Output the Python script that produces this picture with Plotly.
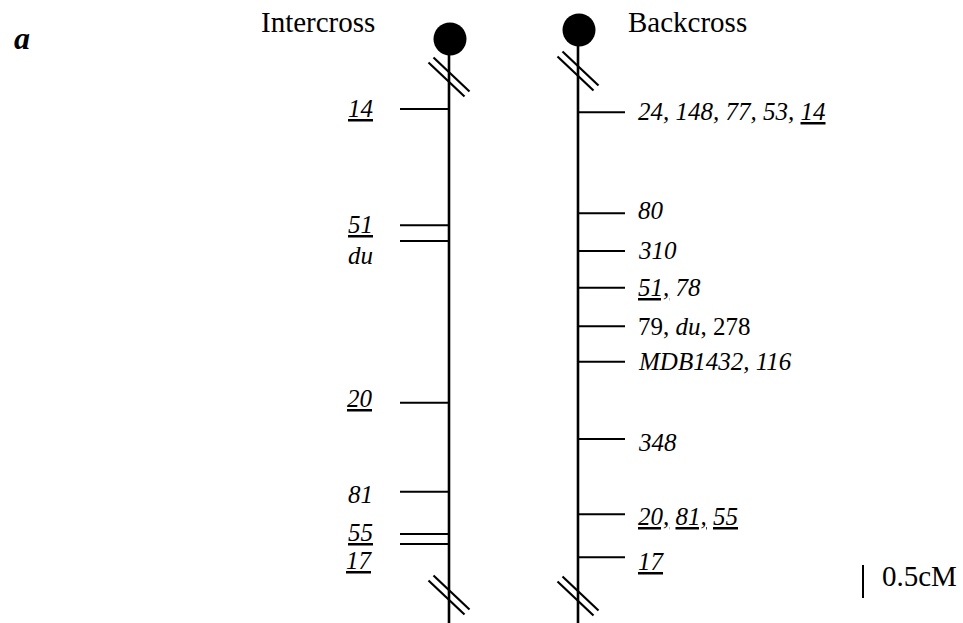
import plotly.graph_objects as go

# ---------------- data (positions in cM, relative to the top Intercross marker) ----------------
intercross_labels = ["<u>14</u>", "<u>51</u>", "<i>du</i>", "<u>20</u>", "81", "<u>55</u>", "<u>17</u>"]
intercross_cM = [0.0, 1.76, 2.00, 4.45, 5.80, 6.44, 6.59]

backcross_labels = ["24, 148, 77, 53, <u>14</u>", "80", "310", "<u>51,</u> 78",
                    "79, du, 278", "MDB1432, 116", "348",
                    "<u>20,</u> <u>81,</u> <u>55</u>", "<u>17</u>"]
backcross_cM = [0.05, 1.58, 2.15, 2.71, 3.29, 3.83, 5.00, 6.14, 6.79]
backcross_italic = [True, True, True, True, False, True, True, True, True]

scale_bar_cM = 0.5
panel_titles = ["Intercross", "Backcross"]
panel_letter = "a"

# ---------------- layout / style ----------------
W, H = 963, 623
PX_PER_CM = 66.0
TOP_PX = 109.0                      # pixel row of cM = 0
Y_TOP = -TOP_PX / PX_PER_CM
Y_BOT = (H - TOP_PX) / PX_PER_CM

def cm(px):
    return (px - TOP_PX) / PX_PER_CM

X_INT = 449      # intercross chromosome x
X_BC = 578       # backcross chromosome x
FONT = "Liberation Serif, Times New Roman, serif"
INK = "black"

def u(s):
    return s.replace("<u>", '<span style="text-decoration:underline">').replace("</u>", "</span>")

fig = go.Figure()

# chromosome bodies
for xc, ytop in [(X_INT, cm(39)), (X_BC, cm(30))]:
    fig.add_trace(go.Scatter(x=[xc, xc], y=[ytop, Y_BOT + 0.2], mode="lines",
                             line=dict(color=INK, width=2.6), hoverinfo="skip", showlegend=False))
    # centromere
    fig.add_trace(go.Scatter(x=[xc + 1], y=[ytop], mode="markers",
                             marker=dict(size=33, color=INK, line=dict(width=0)),
                             hoverinfo="skip", showlegend=False))

# intercross ticks (to the left)
tx, ty = [], []
for c in intercross_cM:
    tx += [X_INT - 49, X_INT, None]
    ty += [c, c, None]
fig.add_trace(go.Scatter(x=tx, y=ty, mode="lines", line=dict(color=INK, width=2),
                         hoverinfo="skip", showlegend=False))
# backcross ticks (to the right)
tx, ty = [], []
for c in backcross_cM:
    tx += [X_BC, X_BC + 47, None]
    ty += [c, c, None]
fig.add_trace(go.Scatter(x=tx, y=ty, mode="lines", line=dict(color=INK, width=2),
                         hoverinfo="skip", showlegend=False))

# scale bar
fig.add_trace(go.Scatter(x=[863, 863], y=[cm(565), cm(565) + scale_bar_cM], mode="lines",
                         line=dict(color=INK, width=2), hoverinfo="skip", showlegend=False))

# break marks (double slashes)
shapes = []
for xc, ypx in [(X_INT, 77), (X_BC, 71), (X_INT, 595), (X_BC, 596)]:
    for off in (-2.5, 2.5):
        cx, cy = xc + off, ypx - off
        shapes.append(dict(type="line", xref="x", yref="y",
                           x0=cx - 18, y0=cm(cy - 17), x1=cx + 18, y1=cm(cy + 17),
                           line=dict(color=INK, width=2.2)))

ann = []
int_shift = [1, 1, -14, 4, -3, 2, -17]
for lab, c, sh in zip(intercross_labels, intercross_cM, int_shift):
    ann.append(dict(x=375, y=c, xref="x", yref="y", text="<i>" + u(lab) + "</i>",
                    xanchor="right", yanchor="middle", yshift=sh, showarrow=False,
                    font=dict(family=FONT, size=25, color=INK)))
bc_shift = [1, 3, 0, 0, 0, 0, -3, -2, -4]
for lab, c, it, sh in zip(backcross_labels, backcross_cM, backcross_italic, bc_shift):
    txt = u(lab)
    if it:
        txt = "<i>" + txt + "</i>"
    else:
        txt = txt.replace("du", "<i>du</i>")
    ann.append(dict(x=636, y=c, xref="x", yref="y", text=txt,
                    xanchor="left", yanchor="middle", yshift=sh, showarrow=False,
                    font=dict(family=FONT, size=25, color=INK)))

# titles
ann.append(dict(x=318, y=cm(22), xref="x", yref="y", text=panel_titles[0], showarrow=False,
                xanchor="center", yanchor="middle", font=dict(family=FONT, size=29, color=INK)))
ann.append(dict(x=626, y=cm(22), xref="x", yref="y", text=panel_titles[1], showarrow=False,
                xanchor="left", yanchor="middle", font=dict(family=FONT, size=29, color=INK)))
ann.append(dict(x=12, y=cm(38), xref="x", yref="y", text="<b><i>" + panel_letter + "</i></b>",
                showarrow=False, xanchor="left", yanchor="middle",
                font=dict(family=FONT, size=32, color=INK)))
ann.append(dict(x=880, y=cm(576), xref="x", yref="y", text="%gcM" % scale_bar_cM, showarrow=False,
                xanchor="left", yanchor="middle", font=dict(family=FONT, size=29, color=INK)))

fig.update_layout(
    width=W, height=H, margin=dict(l=0, r=0, t=0, b=0),
    paper_bgcolor="white", plot_bgcolor="white",
    xaxis=dict(range=[0, W], visible=False, fixedrange=True),
    yaxis=dict(range=[Y_BOT, Y_TOP], visible=False, fixedrange=True),
    shapes=shapes, annotations=ann, showlegend=False,
)

fig.write_html("out.html", config={"displayModeBar": False},
               post_script="document.body.style.margin='0';document.body.style.overflow='hidden';")
